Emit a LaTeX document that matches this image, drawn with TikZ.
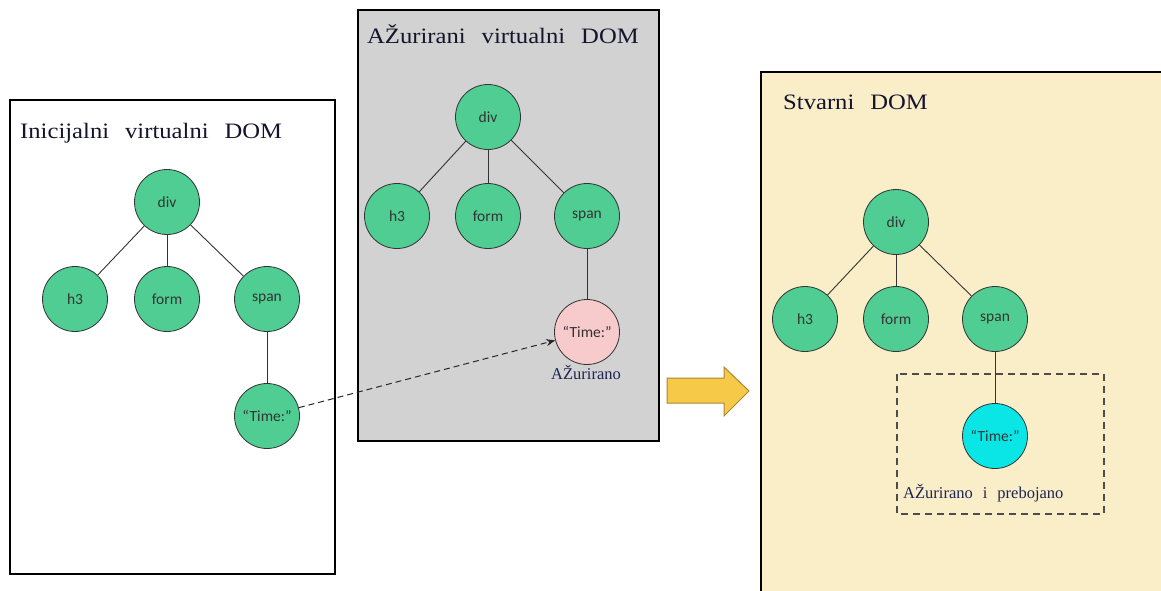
\documentclass[tikz,border=0pt]{standalone}
\usepackage{fontspec}
\setmainfont{Liberation Serif}
\newfontfamily\titlefont[FakeStretch=1.12]{Liberation Serif}
\newfontfamily\nodefont{Carlito}
\usetikzlibrary{arrows.meta}
\newcommand\mytitlefont{\titlefont\fontsize{22}{24}\selectfont\spaceskip 16pt\relax}
\newcommand\mylabelfont{\fontsize{16.5}{18}\selectfont\spaceskip 10pt\relax}
\definecolor{nodegreen}{RGB}{79,205,147}
\definecolor{nodepink}{RGB}{247,202,203}
\definecolor{nodecyan}{RGB}{10,230,230}
\definecolor{panelgray}{RGB}{210,210,210}
\definecolor{panelcream}{RGB}{250,238,201}
\definecolor{arrowyellow}{RGB}{247,201,72}
\definecolor{arrowedge}{RGB}{170,135,50}
\definecolor{titleink}{RGB}{20,20,45}
\definecolor{labelink}{RGB}{30,35,80}
\tikzset{
  treenode/.style={circle, draw=black!80, line width=0.8pt, fill=nodegreen,
    minimum size=65pt, inner sep=0pt, font=\nodefont\fontsize{15.5}{17}\selectfont, text=black!80},
  edge/.style={draw=black!80, line width=0.9pt},
  panel/.style={draw=black, line width=2pt},
  paneltitle/.style={anchor=base west, inner sep=0pt, text=titleink, font=\mytitlefont},
  smalllabel/.style={inner sep=0pt, text=labelink, font=\mylabelfont},
}
\begin{document}
\begin{tikzpicture}[x=1pt,y=-1pt]
\useasboundingbox (0,0) rectangle (1161,590);
\fill[white] (0,0) rectangle (1161,590);

% panels
\draw[panel, fill=white] (10,100) rectangle (335,574);
\draw[panel, fill=panelgray] (358,10) rectangle (659,441);
\fill[panelcream] (761,72) rectangle (1170,600);
\draw[panel] (761,600) -- (761,72) -- (1170,72);

% titles
\node[paneltitle] (t1) at (20,138) {Inicijalni virtualni DOM};
\node[paneltitle] (t2) at (367,43) {AŽurirani virtualni DOM};
\node[paneltitle] (t3) at (783,109) {Stvarni DOM};

% left tree
\node[treenode] (ldiv) at (167,202) {div};
\node[treenode] (lh3) at (75,299) {h3};
\node[treenode] (lform) at (167,299) {form};
\node[treenode] (lspan) at (267,299) {span};
\node[treenode] (ltime) at (267,416) {“Time:”};
\draw[edge] (ldiv) -- (lh3);
\draw[edge] (ldiv) -- (lform);
\draw[edge] (ldiv) -- (lspan);
\draw[edge] (lspan) -- (ltime);

% middle tree
\node[treenode] (mdiv) at (488,117) {div};
\node[treenode] (mh3) at (397,216) {h3};
\node[treenode] (mform) at (488,216) {form};
\node[treenode] (mspan) at (587,216) {span};
\node[treenode, fill=nodepink] (mtime) at (587,332) {“Time:”};
\draw[edge] (mdiv) -- (mh3);
\draw[edge] (mdiv) -- (mform);
\draw[edge] (mdiv) -- (mspan);
\draw[edge] (mspan) -- (mtime);
\node[smalllabel, anchor=base] (mlabel) at (586,379) {AŽurirano};

% dashed arrow
\draw[black!85, line width=1pt, dash pattern=on 6pt off 4pt,
  -{Stealth[length=9pt,width=7pt]}] (ltime) -- (mtime);

% yellow arrow
\draw[fill=arrowyellow, draw=arrowedge, line width=1pt, line join=miter]
  (667,378) -- (724,378) -- (724,367) -- (749,391) -- (724,416) -- (724,403) -- (667,403) -- cycle;

% right tree
\node[treenode] (rdiv) at (896,222) {div};
\node[treenode] (rh3) at (805,319) {h3};
\node[treenode] (rform) at (896,319) {form};
\node[treenode] (rspan) at (995,319) {span};
\node[treenode, fill=nodecyan] (rtime) at (995,436) {“Time:”};
\draw[edge] (rdiv) -- (rh3);
\draw[edge] (rdiv) -- (rform);
\draw[edge] (rdiv) -- (rspan);
\draw[edge] (rspan) -- (rtime);
\draw[black!70, line width=1.2pt, dash pattern=on 7pt off 5pt] (897,374) rectangle (1104,514);
\node[smalllabel, anchor=base west] (rlabel) at (903,498) {AŽurirano i prebojano};
\end{tikzpicture}
\end{document}
